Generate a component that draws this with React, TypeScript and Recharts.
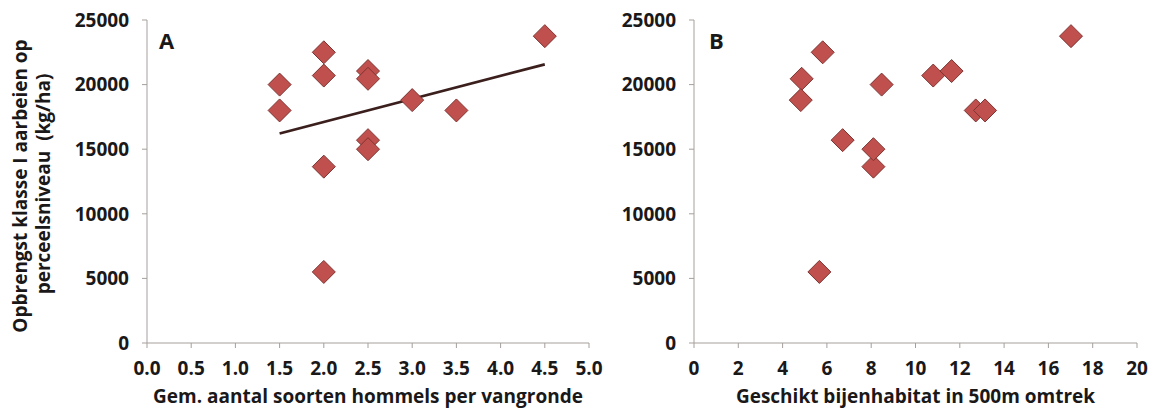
import { ScatterChart, Scatter, XAxis, YAxis, ReferenceLine } from "recharts";

// opbrengst per perceel (kg/ha), same order in both panels
const opbrengst = [20000, 18000, 22500, 20700, 13650, 5500, 21050, 20450, 15700, 15000, 18800, 18000, 23750];
const hommels = [1.5, 1.5, 2, 2, 2, 2, 2.5, 2.5, 2.5, 2.5, 3, 3.5, 4.5];
const habitat = [8.47, 12.72, 5.81, 10.8, 8.1, 5.66, 11.63, 4.86, 6.71, 8.1, 4.82, 13.14, 17.02];

const yTicks = [0, 5000, 10000, 15000, 20000, 25000];
const hommelTicks = [0, 0.5, 1, 1.5, 2, 2.5, 3, 3.5, 4, 4.5, 5];
const habitatTicks = [0, 2, 4, 6, 8, 10, 12, 14, 16, 18, 20];

const FONT = "'Open Sans', sans-serif";
const TEXT = "#1a1818";
const AXIS = "#a59f9c";
const FILL = "#c0504d";
const EDGE = "#7e3432";

const dataA = hommels.map((x, i) => ({ x, y: opbrengst[i] }));
const dataB = habitat.map((x, i) => ({ x, y: opbrengst[i] }));

// least squares line for panel A
function trend(xs: number[], ys: number[]) {
  const n = xs.length;
  const mx = xs.reduce((a, b) => a + b, 0) / n;
  const my = ys.reduce((a, b) => a + b, 0) / n;
  let sxy = 0;
  let sxx = 0;
  xs.forEach((x, i) => {
    sxy += (x - mx) * (ys[i] - my);
    sxx += (x - mx) * (x - mx);
  });
  const slope = sxy / sxx;
  const x0 = Math.min(...xs);
  const x1 = Math.max(...xs);
  return [
    { x: x0, y: my + slope * (x0 - mx) },
    { x: x1, y: my + slope * (x1 - mx) },
  ];
}

const lineA = trend(hommels, opbrengst);

const Diamond = (props: any) => {
  const { cx, cy } = props;
  const r = 11.5;
  return (
    <polygon
      points={`${cx},${cy - r} ${cx + r},${cy} ${cx},${cy + r} ${cx - r},${cy}`}
      fill={FILL}
      stroke={EDGE}
      strokeWidth={1}
    />
  );
};

const tickStyle = { fill: TEXT, fontSize: 19, fontWeight: 700, fontFamily: FONT };

const xTitle = (text: string) => (props: any) => {
  const { viewBox } = props;
  return (
    <text
      x={viewBox.x + viewBox.width / 2}
      y={403}
      textAnchor="middle"
      fill={TEXT}
      fontSize={19}
      fontWeight={700}
      fontFamily={FONT}
    >
      {text}
    </text>
  );
};

const yTitle = () => {
  const cy = 186;
  return (
    <g fill={TEXT} fontSize={19} fontWeight={700} fontFamily={FONT}>
      <text x={19.5} y={cy} textAnchor="middle" dominantBaseline="central" transform={`rotate(-90, 19.5, ${cy})`}>
        Opbrengst klasse I aarbeien op
      </text>
      <text x={42.5} y={cy - 2} textAnchor="middle" dominantBaseline="central" transform={`rotate(-90, 42.5, ${cy - 2})`}>
        {"perceelsniveau \u00a0(kg/ha)"}
      </text>
    </g>
  );
};

function Panel(props: {
  data: { x: number; y: number }[];
  ticks: number[];
  domain: [number, number];
  width: number;
  yWidth: number;
  right: number;
  title: string;
  fmt: (v: number) => string;
  yLabel?: boolean;
  line?: { x: number; y: number }[];
}) {
  const { data, ticks, domain, width, yWidth, right, title, fmt, yLabel, line } = props;
  return (
    <ScatterChart width={width} height={414} margin={{ top: 20, right, bottom: 0, left: 0 }}>
      <XAxis
        type="number"
        dataKey="x"
        domain={domain}
        ticks={ticks}
        tickFormatter={fmt}
        interval={0}
        height={71}
        stroke={AXIS}
        tickSize={5}
        tickMargin={14}
        tick={tickStyle}
        label={{ content: xTitle(title) }}
      />
      <YAxis
        type="number"
        dataKey="y"
        domain={[0, 25000]}
        ticks={yTicks}
        interval={0}
        width={yWidth}
        stroke={AXIS}
        tickSize={5}
        tickMargin={13}
        tick={tickStyle}
        label={yLabel ? { content: yTitle } : undefined}
      />
      {line && (
        <ReferenceLine
          segment={line}
          stroke="#3a1f1d"
          strokeWidth={2.8}
          ifOverflow="visible"
        />
      )}
      <Scatter data={data} shape={Diamond} isAnimationActive={false} />
    </ScatterChart>
  );
}

export default function App() {
  return (
    <div style={{ position: "absolute", left: 0, top: 0, width: 1153, height: 414, background: "#fff" }}>
      <div style={{ position: "absolute", left: 0, top: 0 }}>
        <Panel
          data={dataA}
          ticks={hommelTicks}
          domain={[0, 5]}
          width={620}
          yWidth={147}
          right={31}
          title="Gem. aantal soorten hommels per vangronde"
          fmt={(v) => v.toFixed(1)}
          yLabel
          line={lineA}
        />
      </div>
      <div style={{ position: "absolute", left: 620, top: 0 }}>
        <Panel
          data={dataB}
          ticks={habitatTicks}
          domain={[0, 20]}
          width={533}
          yWidth={74}
          right={16}
          title="Geschikt bijenhabitat in 500m omtrek"
          fmt={(v) => String(v)}
        />
      </div>
      <svg
        width={1153}
        height={414}
        style={{ position: "absolute", left: 0, top: 0, pointerEvents: "none" }}
      >
        <g fill={TEXT} fontSize={22} fontWeight={700} fontFamily={FONT}>
          <text x={159} y={49}>A</text>
          <text x={709} y={49}>B</text>
        </g>
      </svg>
    </div>
  );
}
